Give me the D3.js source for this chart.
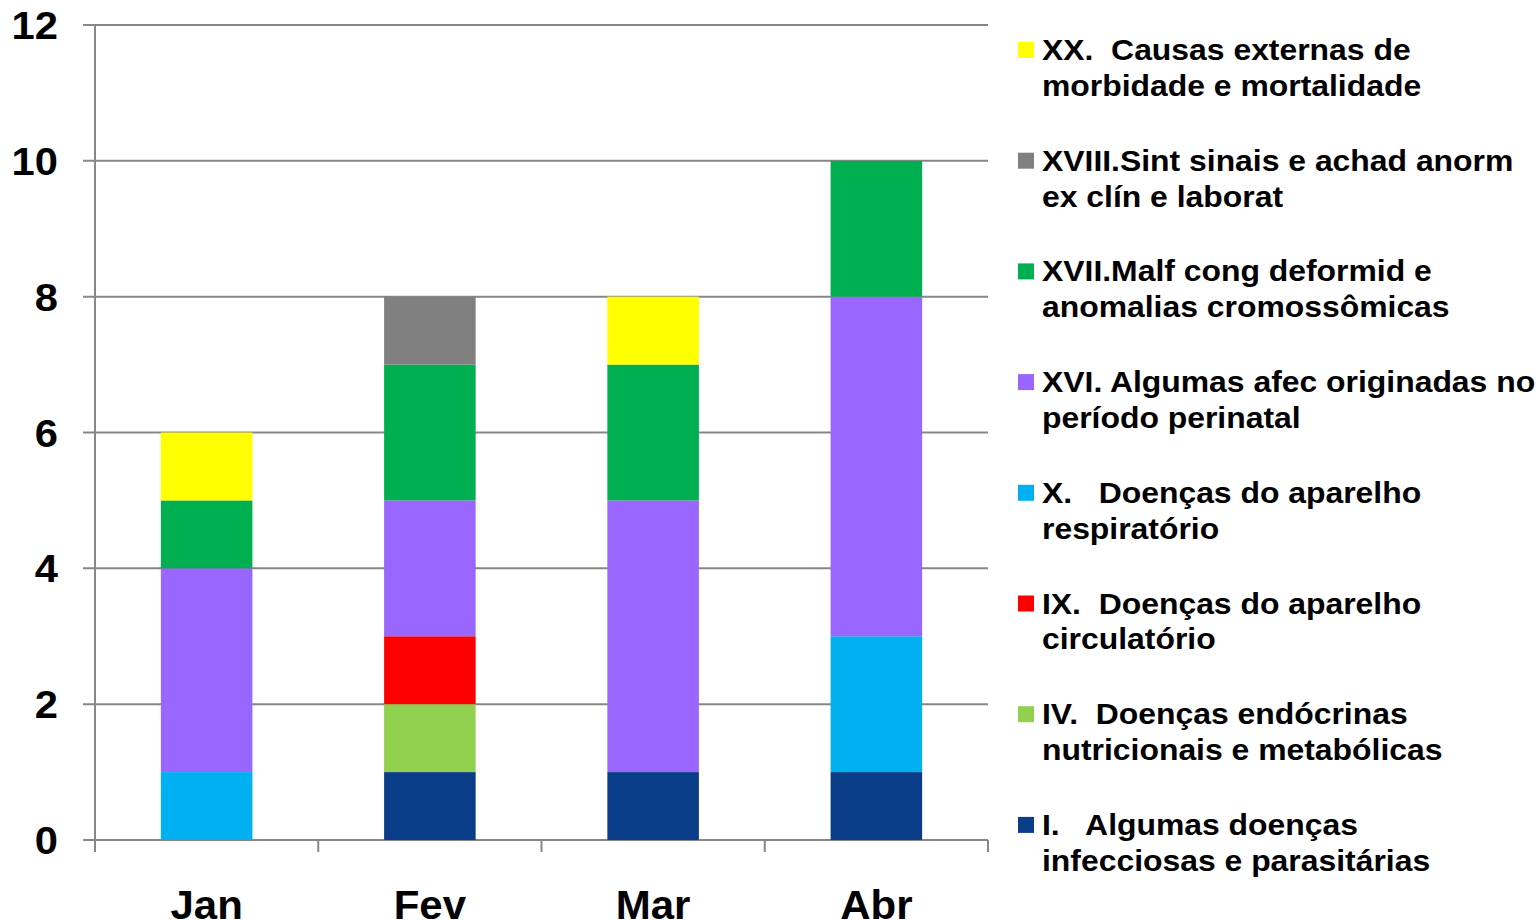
<!DOCTYPE html>
<html>
<head>
<meta charset="utf-8">
<script src="https://cdn.jsdelivr.net/npm/d3@7"></script>
<style>
  body { margin: 0; background: #fff; }
  svg { font-family: "Liberation Sans", Arial, sans-serif; font-weight: bold; }
</style>
</head>
<body>
<svg id="chart" width="1539" height="920"></svg>
<script>
// 月份
const months = ["Jan", "Fev", "Mar", "Abr"];

// 分组（从下到上堆叠）
const seriesKeys = ["I", "IV", "IX", "X", "XVI", "XVII", "XVIII", "XX"];
const seriesLabels = [
    ["I.   Algumas doenças", "infecciosas e parasitárias"],
    ["IV.  Doenças endócrinas", "nutricionais e metabólicas"],
    ["IX.  Doenças do aparelho", "circulatório"],
    ["X.   Doenças do aparelho", "respiratório"],
    ["XVI. Algumas afec originadas no", "período perinatal"],
    ["XVII.Malf cong deformid e", "anomalias cromossômicas"],
    ["XVIII.Sint sinais e achad anorm", "ex clín e laborat"],
    ["XX.  Causas externas de", "morbidade e mortalidade"]
];
const seriesColors = ["#0a3d87", "#92d050", "#ff0000", "#00b0f0", "#9966ff", "#00b050", "#808080", "#ffff00"];

// 每个分组在各月份的值
const valI     = [0, 1, 1, 1];
const valIV    = [0, 1, 0, 0];
const valIX    = [0, 1, 0, 0];
const valX     = [1, 0, 0, 2];
const valXVI   = [3, 2, 4, 5];
const valXVII  = [1, 2, 2, 2];
const valXVIII = [0, 1, 0, 0];
const valXX    = [1, 0, 1, 0];

const yTicks = [0, 2, 4, 6, 8, 10, 12];

const seriesValues = [valI, valIV, valIX, valX, valXVI, valXVII, valXVIII, valXX];
const rows = months.map((m, i) => {
    const r = { month: m };
    seriesKeys.forEach((k, j) => r[k] = seriesValues[j][i]);
    return r;
});

const svg = d3.select("#chart");
const margin = { top: 25, left: 95 };
const plotW = 893, plotH = 815;

const x = d3.scaleBand().domain(months).range([0, plotW]).paddingInner(0.59).paddingOuter(0.295);
const xEdge = d3.scaleLinear().domain([0, months.length]).range([0, plotW]);
const y = d3.scaleLinear().domain([0, 12]).range([plotH, 0]);
const color = d3.scaleOrdinal().domain(seriesKeys).range(seriesColors);

const g = svg.append("g").attr("transform", `translate(${margin.left},${margin.top})`);

// 网格线
g.append("g")
    .selectAll("line")
    .data(yTicks)
    .join("line")
    .attr("x1", -12).attr("x2", plotW)
    .attr("y1", d => y(d)).attr("y2", d => y(d))
    .attr("stroke", "#878787")
    .attr("stroke-width", 2);

// y 轴标签（原图文字略微横向拉伸）
g.append("g")
    .selectAll("text")
    .data(yTicks)
    .join("text")
    .attr("transform", d => `translate(-37,${y(d)}) scale(1.07,1)`)
    .attr("dy", "0.36em")
    .attr("text-anchor", "end")
    .style("font-size", "39px")
    .text(d => d);

// 堆叠柱
const stacked = d3.stack().keys(seriesKeys)(rows);
g.append("g")
    .selectAll("g")
    .data(stacked)
    .join("g")
    .attr("fill", d => color(d.key))
    .selectAll("rect")
    .data(d => d)
    .join("rect")
    .attr("x", d => x(d.data.month))
    .attr("y", d => y(d[1]))
    .attr("width", x.bandwidth())
    .attr("height", d => y(d[0]) - y(d[1]));

// y 轴线
g.append("line")
    .attr("x1", 0).attr("x2", 0)
    .attr("y1", 0).attr("y2", plotH + 12)
    .attr("stroke", "#878787").attr("stroke-width", 2);

// x 轴刻度
g.append("g")
    .selectAll("line")
    .data(d3.range(months.length + 1))
    .join("line")
    .attr("x1", d => xEdge(d)).attr("x2", d => xEdge(d))
    .attr("y1", plotH).attr("y2", plotH + 12)
    .attr("stroke", "#878787").attr("stroke-width", 2);

// x 轴标签
g.append("g")
    .selectAll("text")
    .data(months)
    .join("text")
    .attr("transform", d => `translate(${x(d) + x.bandwidth() / 2},${plotH + 79}) scale(1.05,1)`)
    .attr("text-anchor", "middle")
    .style("font-size", "40px")
    .text(d => d);

// 图例（从上到下与堆叠顺序相反）
const legendOrder = d3.range(seriesKeys.length).reverse();
const legend = svg.append("g").attr("transform", "translate(1018,0)");
const item = legend.selectAll("g")
    .data(legendOrder)
    .join("g")
    .attr("transform", (d, i) => `translate(0,${50 + i * 110.7})`);

item.append("rect")
    .attr("x", 0).attr("y", -8)
    .attr("width", 16).attr("height", 16)
    .attr("fill", d => seriesColors[d]);

item.each(function(d) {
    const t = d3.select(this).append("text")
        .attr("transform", "translate(24,10) scale(1.1,1)")
        .style("font-size", "29px")
        .style("white-space", "pre");
    seriesLabels[d].forEach((line, k) => {
        t.append("tspan").attr("x", 0).attr("dy", k === 0 ? 0 : 36).text(line);
    });
});
</script>
</body>
</html>
